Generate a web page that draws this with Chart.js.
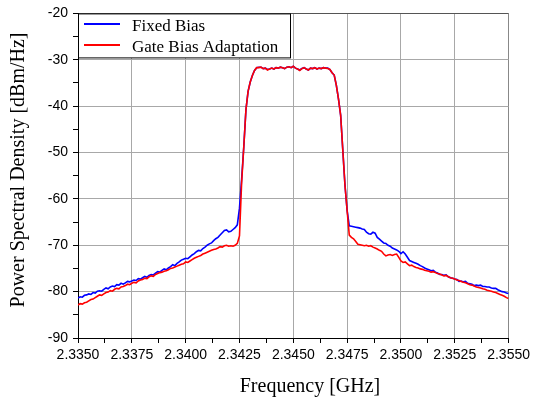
<!DOCTYPE html>
<html>
<head>
<meta charset="utf-8">
<script src="https://cdn.jsdelivr.net/npm/chart.js@4.4.1/dist/chart.umd.min.js"></script>
<style>
  html, body { margin: 0; padding: 0; background: #fff; }
  #wrap { width: 534px; height: 400px; }
</style>
</head>
<body>
<div id="wrap"><canvas id="psdChart" width="534" height="400"></canvas></div>
<script>
// spectrum sampled every 0.1 MHz from 2.3350 to 2.3550 GHz
const FREQ_START = 2.3350;
const FREQ_STEP = 0.0001;
const SAMPLE_COUNT = 201;
const freqGHz = Array.from({ length: SAMPLE_COUNT }, (_, i) => +(FREQ_START + i * FREQ_STEP).toFixed(4));

const seriesNames = ['Fixed Bias', 'Gate Bias Adaptation'];
const seriesColors = ['#0000ff', '#ff0000'];

// PSD in dBm/Hz
const fixedBias = [
  -81.4, -81.1, -81.2, -80.8, -80.7, -80.5, -80.6, -80.2, -80.3, -79.9,
  -79.8, -79.9, -79.5, -79.2, -79.4, -79.0, -78.8, -78.9, -78.5, -78.6,
  -78.2, -78.4, -78.1, -77.8, -77.9, -77.7, -77.5, -77.6, -77.2, -77.3,
  -77.0, -76.7, -76.9, -76.5, -76.3, -76.4, -76.0, -75.7, -75.8, -75.4,
  -75.1, -75.3, -74.9, -74.6, -74.2, -74.4, -73.9, -73.6, -73.2, -73.0,
  -72.8, -72.9, -72.5, -72.1, -71.8, -71.4, -71.1, -71.2, -70.7, -70.4,
  -70.0, -69.7, -69.5, -69.0, -68.6, -68.3, -67.8, -67.3, -66.8, -66.7,
  -67.1, -67.0, -66.6, -66.2, -65.6, -62.0, -55.8, -48.8, -40.8, -36.8,
  -34.8, -33.4, -32.3, -31.7, -31.6, -31.6, -31.9, -31.8, -32.1, -32.0,
  -31.8, -32.0, -31.7, -31.8, -31.6, -31.7, -31.9, -31.6, -31.5, -31.7,
  -31.4, -31.8, -32.0, -32.2, -31.9, -31.7, -32.0, -32.2, -31.8, -31.9,
  -31.7, -32.0, -31.8, -31.9, -31.7, -31.8, -31.8, -32.1, -32.8, -33.3,
  -35.5, -38.5, -42.0, -49.5, -57.0, -62.5, -65.8, -65.9, -66.0, -66.1,
  -66.2, -66.3, -66.5, -66.6, -67.2, -67.5, -67.6, -67.2, -67.4, -68.3,
  -68.7, -69.1, -69.5, -69.6, -70.0, -70.2, -70.6, -70.8, -71.0, -71.3,
  -71.8, -71.4, -71.9, -72.6, -73.3, -73.5, -73.7, -73.9, -74.1, -74.4,
  -74.6, -74.9, -75.1, -75.3, -75.5, -75.4, -75.8, -76.0, -76.3, -76.3,
  -76.5, -76.4, -76.8, -77.0, -77.1, -77.3, -77.4, -77.8, -77.7, -77.9,
  -77.8, -78.2, -78.3, -78.4, -78.7, -78.6, -78.7, -78.6, -78.9, -78.9,
  -79.0, -79.0, -79.2, -79.3, -79.3, -79.6, -79.8, -80.0, -80.1, -80.3,
  -80.4
];

const gateBiasAdaptation = [
  -82.9, -82.6, -82.7, -82.4, -82.3, -82.0, -81.7, -81.6, -81.3, -81.0,
  -80.7, -80.8, -80.5, -80.2, -80.1, -79.8, -79.9, -79.5, -79.3, -79.4,
  -79.0, -78.9, -78.7, -78.4, -78.5, -78.2, -78.0, -78.1, -77.7, -77.5,
  -77.4, -77.1, -77.2, -76.8, -76.6, -76.7, -76.3, -76.1, -75.9, -75.8,
  -75.6, -75.5, -75.3, -75.0, -74.9, -74.7, -74.5, -74.3, -74.1, -74.0,
  -73.6, -73.7, -73.4, -73.1, -72.8, -72.6, -72.4, -72.2, -71.9, -71.7,
  -71.5, -71.3, -71.1, -70.9, -70.8, -70.6, -70.3, -70.4, -70.1, -70.0,
  -70.2, -70.1, -70.2, -70.0, -69.6, -68.0, -56.5, -48.8, -40.8, -36.8,
  -34.8, -33.4, -32.3, -31.7, -31.7, -31.6, -31.9, -31.8, -32.2, -32.0,
  -31.8, -32.0, -31.7, -31.8, -31.6, -31.7, -31.9, -31.6, -31.5, -31.7,
  -31.4, -31.8, -32.0, -32.3, -31.9, -31.7, -32.0, -32.2, -31.8, -31.9,
  -31.7, -32.0, -31.8, -31.9, -31.7, -31.8, -31.9, -32.1, -32.8, -33.3,
  -35.5, -38.5, -42.0, -49.5, -57.0, -62.5, -67.8, -68.3, -68.6, -69.2,
  -69.8, -69.9, -70.0, -70.1, -70.0, -70.2, -70.1, -70.4, -70.6, -70.8,
  -71.1, -71.3, -71.9, -72.3, -72.1, -72.0, -72.2, -72.0, -71.9, -72.6,
  -73.4, -73.7, -73.6, -74.0, -74.4, -74.3, -74.6, -74.8, -74.9, -75.1,
  -75.2, -75.4, -75.5, -75.6, -75.8, -75.7, -75.9, -76.1, -76.2, -76.4,
  -76.6, -76.5, -76.8, -77.0, -77.1, -77.3, -77.5, -77.6, -77.8, -78.0,
  -78.1, -78.3, -78.5, -78.6, -78.8, -79.0, -79.1, -79.2, -79.4, -79.5,
  -79.7, -79.8, -79.9, -80.1, -80.2, -80.4, -80.6, -80.8, -81.0, -81.3,
  -81.5
];

// axis ticks: labelled majors with an unlabelled minor between each pair
const xTicks = [
  2.3350, 2.33625, 2.3375, 2.33875, 2.3400, 2.34125, 2.3425, 2.34375, 2.3450,
  2.34625, 2.3475, 2.34875, 2.3500, 2.35125, 2.3525, 2.35375, 2.3550
];
const xTickLabels = ['2.3350', '2.3375', '2.3400', '2.3425', '2.3450', '2.3475', '2.3500', '2.3525', '2.3550'];
const yTicks = [-90, -85, -80, -75, -70, -65, -60, -55, -50, -45, -40, -35, -30, -25, -20];
const yTickLabels = ['-90', '-80', '-70', '-60', '-50', '-40', '-30', '-20'];

const toPoints = values => values.map((v, i) => ({ x: freqGHz[i], y: v }));

const tickFont = { family: "'Liberation Sans', Arial, sans-serif", size: 14 };
const serif = "'Liberation Serif', 'Times New Roman', serif";

// axis titles and the boxed legend in the upper-left of the plot
const decorations = {
  id: 'decorations',
  afterDraw(chart) {
    const ctx = chart.ctx;
    const area = chart.chartArea;
    ctx.save();
    ctx.fillStyle = '#000';
    ctx.font = '20px ' + serif;
    ctx.textAlign = 'center';
    ctx.textBaseline = 'alphabetic';
    ctx.fillText('Frequency [GHz]', 310, 392);
    ctx.save();
    ctx.translate(24, 170);
    ctx.rotate(-Math.PI / 2);
    ctx.fillText('Power Spectral Density [dBm/Hz]', 0, 0);
    ctx.restore();

    const bx = area.left + 0.5, by = area.top + 0.5, bw = 212, bh = 44;
    ctx.fillStyle = '#fff';
    ctx.fillRect(bx, by, bw, bh);
    ctx.strokeStyle = '#000';
    ctx.lineWidth = 1;
    ctx.strokeRect(bx, by, bw, bh);
    ctx.font = '17px ' + serif;
    ctx.textAlign = 'left';
    const rows = [24, 45];
    seriesNames.forEach((name, i) => {
      ctx.strokeStyle = seriesColors[i];
      ctx.lineWidth = 2;
      ctx.beginPath();
      ctx.moveTo(area.left + 6, rows[i]);
      ctx.lineTo(area.left + 42, rows[i]);
      ctx.stroke();
      ctx.fillStyle = '#000';
      ctx.fillText(name, area.left + 54, rows[i] + 6.5);
    });
    ctx.restore();
  }
};

new Chart(document.getElementById('psdChart'), {
  type: 'line',
  data: {
    datasets: [
      {
        label: seriesNames[0],
        data: toPoints(fixedBias),
        borderColor: seriesColors[0],
        borderWidth: 1.6,
        pointRadius: 0,
        tension: 0,
        order: 1
      },
      {
        label: seriesNames[1],
        data: toPoints(gateBiasAdaptation),
        borderColor: seriesColors[1],
        borderWidth: 1.6,
        pointRadius: 0,
        tension: 0,
        order: 0
      }
    ]
  },
  options: {
    responsive: false,
    devicePixelRatio: 1,
    animation: false,
    layout: { padding: { left: 28, right: 22, top: 11, bottom: 34 } },
    plugins: {
      legend: { display: false },
      tooltip: { enabled: false }
    },
    scales: {
      x: {
        type: 'linear',
        min: 2.335,
        max: 2.355,
        afterBuildTicks: s => { s.ticks = xTicks.map(v => ({ value: v })); },
        afterFit: s => { s.height = 28; },
        ticks: {
          autoSkip: false,
          maxRotation: 0,
          padding: 4,
          color: '#000',
          font: tickFont,
          callback: (v, i) => (i % 2 === 0 ? xTickLabels[i / 2] : '')
        },
        grid: {
          color: c => (c.index % 2 === 0 ? (c.index === xTicks.length - 1 ? '#888' : '#a8a8a8') : 'rgba(0,0,0,0)'),
          tickColor: '#000',
          tickLength: 5,
          lineWidth: 1
        },
        border: { color: '#000', width: 1 }
      },
      y: {
        min: -90,
        max: -20,
        afterBuildTicks: s => { s.ticks = yTicks.map(v => ({ value: v })); },
        afterFit: s => { s.width = 50; },
        ticks: {
          autoSkip: false,
          padding: 5,
          color: '#000',
          font: tickFont,
          callback: (v, i) => (i % 2 === 0 ? yTickLabels[i / 2] : '')
        },
        grid: {
          color: c => (c.index % 2 === 0 ? (c.index === yTicks.length - 1 ? '#555' : '#a8a8a8') : 'rgba(0,0,0,0)'),
          tickColor: '#000',
          tickLength: 5,
          lineWidth: 1
        },
        border: { color: '#000', width: 1 }
      }
    }
  },
  plugins: [decorations]
});
</script>
</body>
</html>
